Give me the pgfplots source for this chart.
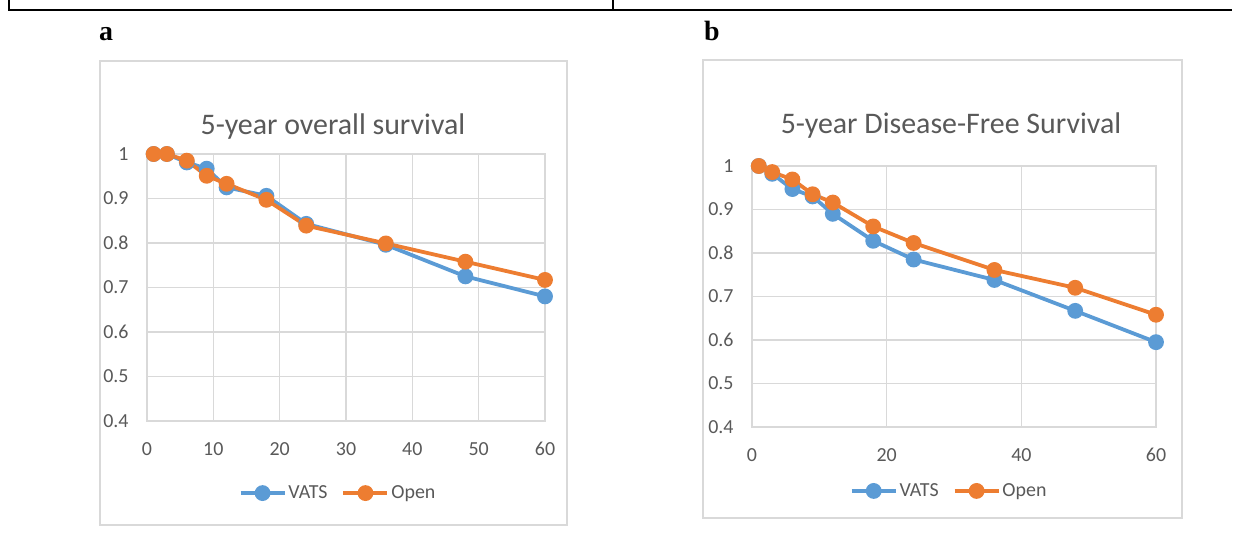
\documentclass[border=0pt]{standalone}
\usepackage{pgfplots}
\pgfplotsset{compat=1.18}
\usepackage{fontspec}
\setmainfont{Carlito}
\newfontfamily\panelfont{Liberation Serif}

\definecolor{vats}{HTML}{5B9BD5}
\definecolor{open}{HTML}{ED7D31}
\definecolor{gridc}{HTML}{D9D9D9}
\definecolor{txt}{HTML}{595959}

\pgfplotsset{
  excel/.style={
    scale only axis,
    anchor=south west,
    xmin=0, xmax=60, ymin=0.4, ymax=1,
    ytick={0.4,0.5,0.6,0.7,0.8,0.9,1},
    grid=major,
    major grid style={draw=gridc, line width=1.3bp},
    axis line style={draw=gridc, line width=1.3bp},
    major tick length=0pt,
    tick label style={font=\fontsize{20}{22}\selectfont, text=txt},
    /pgf/number format/assume math mode=true,
    xticklabel style={yshift=-18bp},
    yticklabel style={xshift=-15bp},
    clip=false,
    legend columns=2,
    legend style={draw=none, fill=none, anchor=center,
      font=\fontsize{20}{22}\selectfont, text=txt,
      /tikz/every even column/.append style={column sep=12bp}},
    legend image code/.code={
      \draw[mark repeat=2, mark phase=2, #1]
        plot coordinates {(0bp,0bp) (22bp,0bp) (44bp,0bp)};},
    every axis plot/.append style={line width=3.8bp, mark=*, mark size=6bp},
  }
}

\begin{document}
\begin{tikzpicture}[x=1bp, y=1bp]
\useasboundingbox (0,0) rectangle (1236,533);

% table frame
\draw[line width=2bp] (9,533) -- (9,523) -- (1232,523);
\draw[line width=2bp] (612.5,523) -- (612.5,533);

% chart frames
\draw[gridc, line width=1.3bp] (100,8) rectangle (567,472);
\draw[gridc, line width=1.3bp] (703,15) rectangle (1182,473);

% panel letters
\node[anchor=base west, inner sep=0pt, font=\panelfont\bfseries\fontsize{28}{30}\selectfont] at (99,492) {a};
\node[anchor=base west, inner sep=0pt, font=\panelfont\bfseries\fontsize{28}{30}\selectfont] at (704,492) {b};

% titles
\node[text=txt, font=\fontsize{30}{32}\selectfont] at (333,406) {5-year overall survival};
\node[text=txt, font=\fontsize{30}{32}\selectfont] at (951,407) {5-year Disease-Free Survival};

\begin{axis}[excel,
  at={(147bp,112bp)}, width=398bp, height=267bp,
  xtick={0,10,20,30,40,50,60},
  legend style={at={(0.48,-0.27)}}]
\addplot[vats] coordinates {
(1,1.0) (3,1.0) (6,0.981) (9,0.967) (12,0.925) (18,0.906)
(24,0.843) (36,0.796) (48,0.725) (60,0.680)
};
\addlegendentry{VATS}
\addplot[open] coordinates {
(1,1.0) (3,1.0) (6,0.985) (9,0.951) (12,0.933) (18,0.897)
(24,0.839) (36,0.799) (48,0.758) (60,0.717)
};
\addlegendentry{Open}
\end{axis}

\begin{axis}[excel,
  at={(752bp,106bp)}, width=404bp, height=261bp,
  xtick={0,20,40,60},
  legend style={at={(0.488,-0.245)}}]
\addplot[vats] coordinates {
(1,1.0) (3,0.982) (6,0.947) (9,0.930) (12,0.890) (18,0.828)
(24,0.785) (36,0.738) (48,0.667) (60,0.595)
};
\addlegendentry{VATS}
\addplot[open] coordinates {
(1,1.0) (3,0.986) (6,0.969) (9,0.935) (12,0.916) (18,0.861)
(24,0.823) (36,0.761) (48,0.720) (60,0.658)
};
\addlegendentry{Open}
\end{axis}
\end{tikzpicture}
\end{document}
